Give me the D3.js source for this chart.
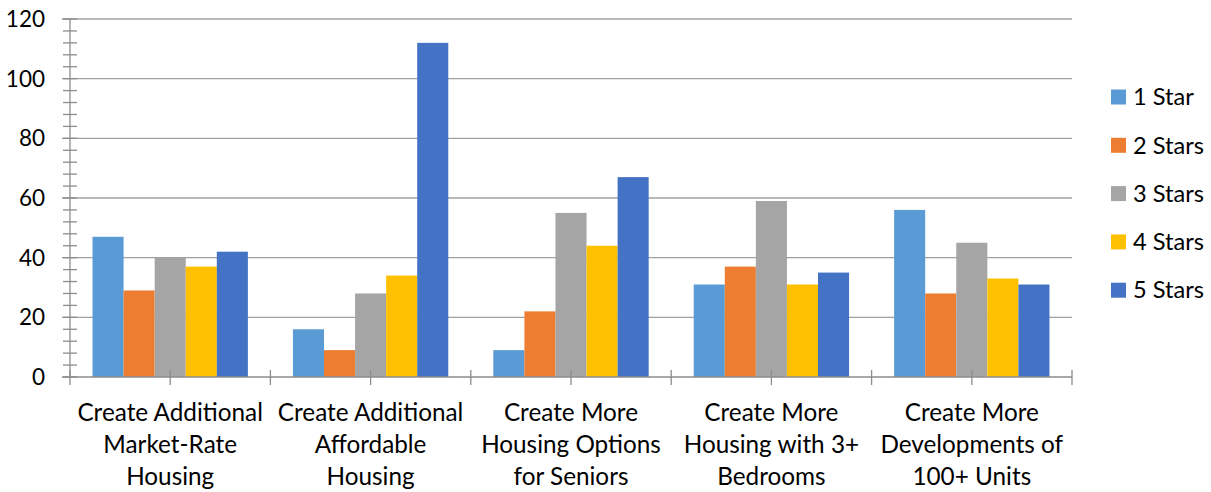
<!DOCTYPE html>
<html>
<head>
<meta charset="utf-8">
<script src="https://cdn.jsdelivr.net/npm/d3@7"></script>
<style>
  html, body { margin: 0; padding: 0; background: #fff; }
  svg { display: block; }
  text { font-family: Lato, "Open Sans", sans-serif; fill: #000; }
</style>
</head>
<body>
<svg id="chart" width="1211" height="492"></svg>
<script>
const categories = [
  ["Create Additional", "Market-Rate", "Housing"],
  ["Create Additional", "Affordable", "Housing"],
  ["Create More", "Housing Options", "for Seniors"],
  ["Create More", "Housing with 3+", "Bedrooms"],
  ["Create More", "Developments of", "100+ Units"]
];
const seriesNames = ["1 Star", "2 Stars", "3 Stars", "4 Stars", "5 Stars"];
const oneStar   = [47, 16, 9, 31, 56];
const twoStars  = [29, 9, 22, 37, 28];
const threeStars= [40, 28, 55, 59, 45];
const fourStars = [37, 34, 44, 31, 33];
const fiveStars = [42, 112, 67, 35, 31];
const yTicks = [0, 20, 40, 60, 80, 100, 120];
const colors = ["#5B9BD5", "#ED7D31", "#A5A5A5", "#FFC000", "#4472C4"];

const seriesValues = [oneStar, twoStars, threeStars, fourStars, fiveStars];

const svg = d3.select("#chart");
const pLeft = 70, pRight = 1072, pTop = 19, pBottom = 377;
const tickFont = 22.5, catFont = 24.3, legFont = 23.6;

const x = d3.scaleBand().domain(d3.range(categories.length)).range([pLeft, pRight]).padding(0);
const xs = d3.scaleBand().domain(d3.range(seriesNames.length)).range([0, x.bandwidth()]).paddingInner(0).paddingOuter(0.725);
const y = d3.scaleLinear().domain([0, 120]).range([pBottom, pTop]);

// gridlines
svg.append("g").selectAll("line").data(yTicks.filter(d => d > 0)).join("line")
  .attr("x1", 62).attr("x2", pRight).attr("y1", d => y(d)).attr("y2", d => y(d))
  .attr("stroke", "#a0a0a0").attr("stroke-width", 1.3);

// bars
const g = svg.append("g");
seriesValues.forEach((vals, si) => {
  g.append("g").selectAll("rect").data(vals).join("rect")
    .attr("x", (d, i) => x(i) + xs(si))
    .attr("width", xs.bandwidth())
    .attr("y", d => y(d))
    .attr("height", d => y(0) - y(d))
    .attr("fill", colors[si]);
});

// y axis
svg.append("line").attr("x1", pLeft).attr("x2", pLeft).attr("y1", pTop).attr("y2", pBottom)
  .attr("stroke", "#8c8c8c").attr("stroke-width", 1.3);
const minorTicks = d3.range(0, 121, 4);
svg.append("g").selectAll("line").data(minorTicks).join("line")
  .attr("x1", 63).attr("x2", 77).attr("y1", d => y(d)).attr("y2", d => y(d))
  .attr("stroke", "#8c8c8c").attr("stroke-width", 1.3);
svg.append("g").selectAll("text").data(yTicks).join("text")
  .attr("x", 45).attr("y", d => y(d)).attr("dy", "0.35em")
  .attr("text-anchor", "end").style("font-size", tickFont + "px")
  .text(d => d);

// x axis
svg.append("line").attr("x1", 62).attr("x2", pRight).attr("y1", pBottom).attr("y2", pBottom)
  .attr("stroke", "#8c8c8c").attr("stroke-width", 1.3);
const xTickPos = [];
categories.forEach((c, i) => { xTickPos.push(x(i)); xTickPos.push(x(i) + x.bandwidth() / 2); });
xTickPos.push(pRight);
svg.append("g").selectAll("line").data(xTickPos).join("line")
  .attr("x1", d => d).attr("x2", d => d).attr("y1", pBottom - 7).attr("y2", pBottom + 8)
  .attr("stroke", "#8c8c8c").attr("stroke-width", 1.3);

const lbl = svg.append("g").selectAll("text").data(categories).join("text")
  .attr("x", (d, i) => x(i) + x.bandwidth() / 2)
  .attr("y", 421)
  .attr("text-anchor", "middle").style("font-size", catFont + "px");
lbl.selectAll("tspan").data(d => d).join("tspan")
  .attr("x", function() { return d3.select(this.parentNode).attr("x"); })
  .attr("dy", (d, i) => i === 0 ? 0 : 32)
  .text(d => d);

// legend
const leg = svg.append("g").selectAll("g").data(seriesNames).join("g")
  .attr("transform", (d, i) => `translate(1111, ${97 + i * 48.3})`);
leg.append("rect").attr("x", 0).attr("y", -7.5).attr("width", 15).attr("height", 15)
  .attr("fill", (d, i) => colors[i]);
leg.append("text").attr("x", 22).attr("dy", "0.35em").style("font-size", legFont + "px").text(d => d);
</script>
</body>
</html>
